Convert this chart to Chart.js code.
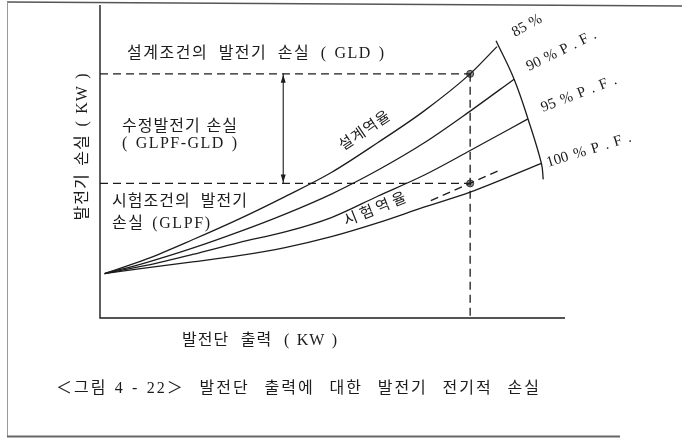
<!DOCTYPE html>
<html>
<head>
<meta charset="utf-8">
<script src="https://cdn.jsdelivr.net/npm/chart.js@4.4.1/dist/chart.umd.min.js"></script>
<style>
  html, body { margin: 0; padding: 0; background: #fff; }
  canvas { display: block; }
</style>
</head>
<body>
<canvas id="c" width="682" height="438" style="width:682px;height:438px"></canvas>
<script>
// 발전단 출력 (x) 에 따른 발전기 손실 (y) : 역율별 곡선
const outputKW  = [1, 10, 20, 30, 40, 50, 60, 70, 80];
const lossPF85  = [14.2, 18.8, 25.0, 31.6, 38.8, 46.5, 56.0, 66.1, 78.0];
const lossPF90  = [14.2, 17.7, 22.3, 27.5, 33.2, 39.6, 47.2, 55.9, 66.1];
const lossPF95  = [14.2, 16.8, 20.3, 24.1, 27.5, 32.1, 38.9, 45.6, 53.5];
const lossPF100 = [14.2, 16.0, 17.9, 19.9, 22.5, 26.0, 30.4, 35.4, 40.2];

// 각 곡선의 끝점 (최대 출력)
const endOutput = [85.8, 89.5, 92.5, 95.4];
const endLoss   = [86.7, 76.3, 63.6, 49.4];
const pfLabels  = ['85 %', '90 % P . F .', '95 % P . F .', '100 % P . F .'];

// 끝점을 잇는 호
const arcOutput = [85.6, 89.5, 92.5, 95.4, 95.8];
const arcLoss   = [88.6, 76.3, 63.6, 49.4, 44.3];

// 정격 출력점과 두 조건의 손실
const ratedOutput = 80;
const lossGLD  = 78;   // 설계조건의 발전기 손실
const lossGLPF = 43;   // 시험조건의 발전기 손실
const arrowOutput = 39.6;

// 시험역율 연장선 (파선)
const testLineOutput = [71.5, 86];
const testLineLoss   = [37.5, 47.0];

const INK = '#1c1c1c';
const FONT = '"Liberation Serif", "Noto Sans CJK KR", serif';
const SP = '\u2004';   // 괄호 안의 좁은 빈칸

const pts = (xs, ys) => xs.map((x, i) => ({ x, y: ys[i] }));
const curve = (ys, i) => ({
  data: pts(outputKW, ys).concat({ x: endOutput[i], y: endLoss[i] }),
  borderColor: INK, borderWidth: 1.3, pointRadius: 0,
  cubicInterpolationMode: 'monotone', fill: false
});
const dashed = (data) => ({
  data, borderColor: INK, borderWidth: 1.3, borderDash: [8, 5],
  pointRadius: 0, tension: 0, fill: false
});

// 글자 배치: 목표 폭에 맞추어 낱말 사이를 넓힘
function drawText(ctx, text, x, y, o) {
  ctx.save();
  ctx.font = `${o.size || 16}px ${FONT}`;
  ctx.fillStyle = o.color || INK;
  ctx.textBaseline = o.baseline || 'middle';
  ctx.textAlign = 'left';
  const ls = o.ls != null ? o.ls : 1;
  ctx.letterSpacing = ls + 'px';
  ctx.wordSpacing = '0px';
  const chars = [...text];
  const spaces = chars.filter(c => c === ' ').length;
  if (o.width) {
    const w = ctx.measureText(text).width - ls;
    const extra = o.width - w;
    if (spaces > 0) ctx.wordSpacing = (extra / spaces) + 'px';
    else if (chars.length > 1) ctx.letterSpacing = (ls + extra / (chars.length - 1)) + 'px';
  }
  ctx.translate(x, y);
  if (o.angle) ctx.rotate(o.angle * Math.PI / 180);
  let dx = 0;
  if (o.center) dx = -(o.width || ctx.measureText(text).width) / 2;
  ctx.fillText(text, dx, 0);
  ctx.restore();
}

const decor = {
  id: 'decor',
  beforeDraw(chart) {
    const ctx = chart.ctx;
    ctx.save();
    // 바깥 테두리
    ctx.strokeStyle = '#555';
    ctx.lineWidth = 1.5;
    ctx.beginPath(); ctx.moveTo(7, 2); ctx.lineTo(682, 6); ctx.stroke();
    ctx.strokeStyle = '#999';
    ctx.lineWidth = 1;
    ctx.beginPath(); ctx.moveTo(7.5, 2); ctx.lineTo(7.5, 437); ctx.stroke();
    ctx.strokeStyle = '#666';
    ctx.lineWidth = 2;
    ctx.beginPath(); ctx.moveTo(7, 436.5); ctx.lineTo(620, 436.5); ctx.stroke();
    ctx.restore();
  },
  afterDatasetsDraw(chart) {
    const ctx = chart.ctx;
    const { left, right, top, bottom } = chart.chartArea;
    const xs = chart.scales.x, ys = chart.scales.y;

    // 축선
    ctx.save();
    ctx.strokeStyle = INK;
    ctx.lineWidth = 1.4;
    ctx.beginPath();
    ctx.moveTo(left, top);
    ctx.lineTo(left, bottom);
    ctx.lineTo(right, bottom);
    ctx.stroke();

    // 손실 차이 화살표 머리
    const ax = xs.getPixelForValue(arrowOutput);
    const aTop = ys.getPixelForValue(lossGLD);
    const aBot = ys.getPixelForValue(lossGLPF);
    ctx.fillStyle = INK;
    ctx.beginPath();
    ctx.moveTo(ax, aTop + 1); ctx.lineTo(ax - 2.5, aTop + 9); ctx.lineTo(ax + 2.5, aTop + 9);
    ctx.closePath(); ctx.fill();
    ctx.beginPath();
    ctx.moveTo(ax, aBot - 1); ctx.lineTo(ax - 2.5, aBot - 9); ctx.lineTo(ax + 2.5, aBot - 9);
    ctx.closePath(); ctx.fill();
    ctx.restore();

    // 설명 글
    drawText(ctx, `설계조건의 발전기 손실 (${SP}GLD${SP})`, 127, 54, { width: 257, ls: 1.5 });
    drawText(ctx, '수정발전기 손실', 122, 127, { width: 115 });
    drawText(ctx, `(${SP}GLPF-GLD${SP})`, 122, 144, { width: 115, ls: 0 });
    drawText(ctx, '시험조건의 발전기', 112, 202, { width: 135 });
    drawText(ctx, '손실 (GLPF)', 112, 224, { width: 98, ls: 1.6 });

    // 곡선 위 글
    drawText(ctx, '설계역율', 343, 151, { size: 15, width: 58, angle: -34, baseline: 'alphabetic' });
    drawText(ctx, '시험역율', 346, 226, { size: 15, width: 66, angle: -22, baseline: 'alphabetic' });

    // 역율 표시
    const pfAnchor = [[515, 37, -29], [529, 71, -26], [543, 112, -21], [548, 167, -17]];
    const pfWidth = [32, 76, 80, 88];
    pfLabels.forEach((t, i) => {
      const [x, y, a] = pfAnchor[i];
      drawText(ctx, t, x, y, { size: 15, width: pfWidth[i], angle: a, baseline: 'alphabetic', ls: 0 });
    });

    // 축 제목과 그림 제목
    drawText(ctx, `발전기 손실 (${SP}KW${SP})`, 83, 147, { width: 147, angle: -90, center: true });
    drawText(ctx, `발전단 출력 (${SP}KW${SP})`, 182, 341, { width: 155 });
    drawText(ctx, `＜그림${SP}4${SP}-${SP}22＞ 발전단 출력에 대한 발전기 전기적 손실`, 56, 389, { width: 483, ls: 2 });
  }
};

new Chart(document.getElementById('c'), {
  type: 'line',
  data: {
    datasets: [
      curve(lossPF85, 0),
      curve(lossPF90, 1),
      curve(lossPF95, 2),
      curve(lossPF100, 3),
      { data: pts(arcOutput, arcLoss), borderColor: INK, borderWidth: 1.3, pointRadius: 0, tension: 0.4, fill: false },
      dashed([{ x: 0, y: lossGLD }, { x: ratedOutput, y: lossGLD }]),
      dashed([{ x: 0, y: lossGLPF }, { x: ratedOutput, y: lossGLPF }]),
      dashed([{ x: ratedOutput, y: lossGLD }, { x: ratedOutput, y: 0 }]),
      dashed(pts(testLineOutput, testLineLoss)),
      { data: [{ x: arrowOutput, y: lossGLD }, { x: arrowOutput, y: lossGLPF }],
        borderColor: INK, borderWidth: 1.1, pointRadius: 0, fill: false },
      { data: [{ x: ratedOutput, y: lossGLD }, { x: ratedOutput, y: lossGLPF }],
        showLine: false, pointRadius: 3.5, pointBackgroundColor: '#8a8a8a',
        pointBorderColor: '#333', pointBorderWidth: 1 }
    ]
  },
  options: {
    responsive: false,
    animation: false,
    events: [],
    layout: { padding: { left: 100, right: 117, top: 2, bottom: 120 } },
    plugins: { legend: { display: false }, tooltip: { enabled: false } },
    scales: {
      x: { type: 'linear', min: 0, max: 100.5, display: false },
      y: { type: 'linear', min: 0, max: 100, display: false }
    }
  },
  plugins: [decor]
});
</script>
</body>
</html>
